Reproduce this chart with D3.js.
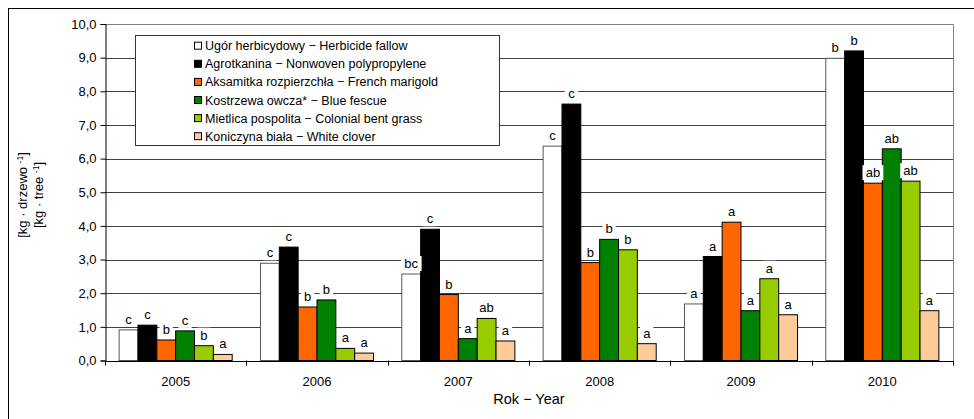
<!doctype html>
<html>
<head>
	<meta charset='utf-8'/>
	<script src="https://d3js.org/d3.v7.min.js"></script>
	<style>
		body { margin: 0; background: #fff; }
		svg { display: block; font-family: "Liberation Sans", Arial, sans-serif; }
	</style>
</head>
<body>
	<div id="chart"></div>
	<script>
		var years = ["2005", "2006", "2007", "2008", "2009", "2010"];
		var seriesNames = [
			"Ugór herbicydowy − Herbicide fallow",
			"Agrotkanina − Nonwoven polypropylene",
			"Aksamitka rozpierzchła − French marigold",
			"Kostrzewa owcza* − Blue fescue",
			"Mietlica pospolita − Colonial bent grass",
			"Koniczyna biała − White clover"
		];
		var seriesColors = ["#ffffff", "#000000", "#ff6600", "#008000", "#99cc00", "#ffcc99"];

		// one array per series, values per year
		var fallow   = [0.91, 2.89, 2.57, 6.37, 1.68, 8.98];
		var nonwoven = [1.05, 3.37, 3.90, 7.62, 3.09, 9.20];
		var marigold = [0.61, 1.59, 1.96, 2.91, 4.11, 5.27];
		var fescue   = [0.88, 1.80, 0.65, 3.60, 1.48, 6.29];
		var bentgrass = [0.44, 0.36, 1.25, 3.29, 2.43, 5.33];
		var clover   = [0.18, 0.22, 0.58, 0.50, 1.36, 1.48];

		// significance letters per series
		var fallowLet   = ["c", "c", "bc", "c", "a", "b"];
		var nonwovenLet = ["c", "c", "c", "c", "a", "b"];
		var marigoldLet = ["b", "b", "b", "b", "a", "ab"];
		var fescueLet   = ["c", "b", "a", "b", "a", "ab"];
		var bentgrassLet = ["b", "a", "ab", "b", "a", "ab"];
		var cloverLet   = ["a", "a", "a", "a", "a", "a"];

		var yTicks = [0, 1, 2, 3, 4, 5, 6, 7, 8, 9, 10];

		var values = [fallow, nonwoven, marigold, fescue, bentgrass, clover];
		var letters = [fallowLet, nonwovenLet, marigoldLet, fescueLet, bentgrassLet, cloverLet];

		var width = 974, height = 419;
		var pLeft = 105, pRight = 953, pTop = 24, pBottom = 360.5;

		var svg = d3.select("#chart").append("svg")
			.attr("width", width)
			.attr("height", height);

		// outer frame
		svg.append("rect")
			.attr("x", 8.5).attr("y", 8.5)
			.attr("width", 1000).attr("height", 500)
			.attr("fill", "#fff")
			.attr("stroke", "#000");

		var x0 = d3.scaleBand().domain(years).range([pLeft, pRight]).padding(0);
		var x1 = d3.scaleBand().domain(d3.range(seriesNames.length))
			.range([0, x0.bandwidth()]).paddingInner(0).paddingOuter(0.75);
		var y = d3.scaleLinear().domain([0, 10]).range([pBottom, pTop]);

		var fmt = d3.formatLocale({decimal: ",", thousands: " ", grouping: [3], currency: ["", ""]}).format(".1f");

		// gridlines
		svg.append("g").selectAll("line")
			.data(yTicks.filter(function(d) { return d > 0 && d < 10; }))
			.join("line")
			.attr("x1", pLeft).attr("x2", pRight)
			.attr("y1", function(d) { return Math.round(y(d)) + 0.5; })
			.attr("y2", function(d) { return Math.round(y(d)) + 0.5; })
			.attr("stroke", "#404040");

		// plot border top & right
		svg.append("path")
			.attr("d", "M" + pLeft + "," + (Math.round(pTop) + 0.5) + "H" + (pRight + 0.5) + "V" + pBottom)
			.attr("fill", "none")
			.attr("stroke", "#808080");

		// bars
		var rows = [];
		years.forEach(function(yr, gi) {
			values.forEach(function(arr, si) {
				rows.push({year: yr, s: si, v: arr[gi], l: letters[si][gi]});
			});
		});

		svg.append("g").selectAll("rect")
			.data(rows)
			.join("rect")
			.attr("x", function(d) { return x0(d.year) + x1(d.s); })
			.attr("y", function(d) { return y(d.v); })
			.attr("width", x1.bandwidth())
			.attr("height", function(d) { return pBottom - y(d.v); })
			.attr("fill", function(d) { return seriesColors[d.s]; })
			.attr("stroke", function(d) { return d.s === 0 ? "#555" : "#000"; })
			.attr("stroke-width", 1);

		// letter labels with white boxes
		var lab = svg.append("g").selectAll("g")
			.data(rows)
			.join("g")
			.attr("transform", function(d) {
				return "translate(" + (x0(d.year) + x1(d.s) + x1.bandwidth() / 2) + "," + (y(d.v) - 6) + ")";
			});
		lab.append("rect")
			.attr("x", function(d) { return -(d.l.length * 3.7 + 3); })
			.attr("y", -12)
			.attr("width", function(d) { return d.l.length * 7.4 + 6; })
			.attr("height", 15)
			.attr("fill", "#fff");
		lab.append("text")
			.attr("text-anchor", "middle")
			.attr("font-size", 13)
			.attr("fill", "#000")
			.text(function(d) { return d.l; });

		// y axis
		var yAxis = svg.append("g")
			.attr("transform", "translate(" + (pLeft + 0.5) + ",0)")
			.call(d3.axisLeft(y).tickValues(yTicks).tickFormat(fmt).tickSize(5).tickPadding(4));
		yAxis.select(".domain").attr("stroke", "#000");
		yAxis.selectAll("line").attr("stroke", "#000");
		yAxis.selectAll("text").attr("font-size", 13).attr("font-family", "Liberation Sans, Arial, sans-serif").attr("fill", "#000");

		// x axis
		var xg = svg.append("g");
		xg.append("line")
			.attr("x1", pLeft).attr("x2", pRight + 0.5)
			.attr("y1", Math.round(pBottom) + 0.5).attr("y2", Math.round(pBottom) + 0.5)
			.attr("stroke", "#000");
		var bounds = years.map(function(d) { return x0(d); }).concat([pRight]);
		xg.selectAll(".tk").data(bounds).join("line")
			.attr("x1", function(d) { return Math.round(d) + 0.5; })
			.attr("x2", function(d) { return Math.round(d) + 0.5; })
			.attr("y1", pBottom).attr("y2", pBottom + 5)
			.attr("stroke", "#000");
		xg.selectAll("text").data(years).join("text")
			.attr("x", function(d) { return x0(d) + x0.bandwidth() / 2; })
			.attr("y", 385.5)
			.attr("text-anchor", "middle")
			.attr("font-size", 13)
			.text(function(d) { return d; });

		svg.append("text")
			.attr("x", (pLeft + pRight) / 2)
			.attr("y", 404)
			.attr("text-anchor", "middle")
			.attr("font-size", 14.5)
			.text("Rok − Year");

		// y title (two lines)
		var yt = svg.append("text")
			.attr("transform", "translate(27,195) rotate(-90)")
			.attr("text-anchor", "middle")
			.attr("font-size", 13);
		var t1 = yt.append("tspan").attr("x", 0).attr("y", 0);
		t1.append("tspan").text("[kg · drzewo ");
		t1.append("tspan").attr("dy", -4).attr("font-size", 8.5).text("-1");
		t1.append("tspan").attr("dy", 4).text("]");
		var t2 = yt.append("tspan").attr("x", 0).attr("y", 16);
		t2.append("tspan").text("[kg · tree ");
		t2.append("tspan").attr("dy", -4).attr("font-size", 8.5).text("-1");
		t2.append("tspan").attr("dy", 4).text("]");

		// legend
		var lg = svg.append("g");
		lg.append("rect")
			.attr("x", 135.5).attr("y", 35.5)
			.attr("width", 364).attr("height", 110)
			.attr("fill", "#fff")
			.attr("stroke", "#333");
		var li = lg.selectAll(".li").data(seriesNames).join("g")
			.attr("transform", function(d, i) { return "translate(194," + (45.7 + i * 18.1) + ")"; });
		li.append("rect")
			.attr("x", 0.5).attr("y", -3.5)
			.attr("width", 7).attr("height", 7)
			.attr("fill", function(d, i) { return seriesColors[i]; })
			.attr("stroke", "#000");
		li.append("text")
			.attr("x", 11).attr("y", 4.5)
			.attr("font-size", 12.5)
			.text(function(d) { return d; });
	</script>
</body>
</html>
